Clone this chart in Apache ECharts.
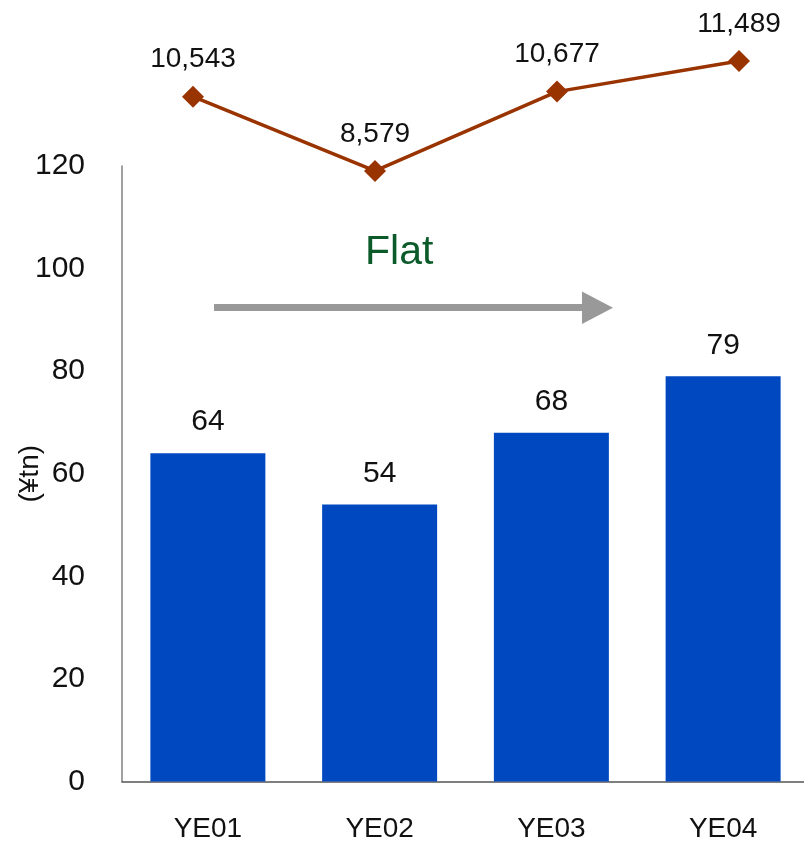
<!DOCTYPE html>
<html>
<head>
<meta charset="utf-8">
<script src="https://cdn.jsdelivr.net/npm/echarts@6/dist/echarts.min.js"></script>
<style>html,body{margin:0;padding:0;background:#fff;}#c{width:804px;height:841px;}</style>
</head>
<body>
<div id="c"></div>
<script>
var categories = ['YE01', 'YE02', 'YE03', 'YE04'];
var barValues = [64, 54, 68, 79];
var lineValues = [10543, 8579, 10677, 11489];
var yTicks = [0, 20, 40, 60, 80, 100, 120];
var annotationText = 'Flat';
var yAxisName = '(¥tn)';

var FONT = '"Liberation Sans", Arial, sans-serif';
var chart = echarts.init(document.getElementById('c'), null, {renderer: 'canvas'});
chart.setOption({
  animation: false,
  backgroundColor: '#ffffff',
  textStyle: {fontFamily: FONT},
  grid: [
    {left: 122, right: -5, top: 166, bottom: 59.5, outerBoundsMode: 'none', containLabel: false},
    {left: 193, right: 65, top: 41.6, height: 151.2, outerBoundsMode: 'none', containLabel: false}
  ],
  xAxis: [
    {
      type: 'category', gridIndex: 0, data: categories,
      axisLine: {lineStyle: {color: '#555555', width: 1.5}},
      axisTick: {show: false},
      axisLabel: {color: '#111111', fontSize: 28, fontFamily: FONT, margin: 34}
    },
    {
      type: 'category', gridIndex: 1, data: categories, boundaryGap: false, show: false
    }
  ],
  yAxis: [
    {
      type: 'value', gridIndex: 0, min: yTicks[0], max: yTicks[yTicks.length - 1], interval: 20,
      name: yAxisName, nameLocation: 'middle', nameGap: 78, nameRotate: 90, nameMoveOverlap: false,
      nameTextStyle: {color: '#111111', fontSize: 28, fontFamily: FONT},
      axisLine: {show: true, lineStyle: {color: '#808080', width: 1.5}},
      axisTick: {show: false},
      splitLine: {show: false},
      axisLabel: {color: '#111111', fontSize: 30, fontFamily: FONT, margin: 37}
    },
    {
      type: 'value', gridIndex: 1, min: 8000, max: 12000, show: false, splitLine: {show: false}
    }
  ],
  series: [
    {
      type: 'bar', xAxisIndex: 0, yAxisIndex: 0, data: barValues,
      barWidth: 115,
      itemStyle: {color: '#0048C0'},
      label: {show: true, position: 'top', distance: 16, color: '#111111', fontSize: 30, fontFamily: FONT}
    },
    {
      type: 'line', xAxisIndex: 1, yAxisIndex: 1, data: lineValues,
      symbol: 'diamond', symbolSize: 22,
      lineStyle: {color: '#993300', width: 3.5},
      itemStyle: {color: '#993300'},
      label: {
        show: true, position: 'top', distance: 12, color: '#111111', fontSize: 28, fontFamily: FONT,
        formatter: function (p) { return p.value.toLocaleString('en-US'); }
      }
    }
  ],
  graphic: [
    {
      type: 'text', left: 365, top: 232,
      style: {text: annotationText, fill: '#0B5A2A', font: '41px ' + FONT}
    },
    {
      type: 'rect', shape: {x: 214, y: 304, width: 370, height: 7},
      style: {fill: '#999999'}
    },
    {
      type: 'polygon', shape: {points: [[582, 291.5], [613, 307.7], [582, 324]]},
      style: {fill: '#999999'}
    }
  ]
});
</script>
</body>
</html>
